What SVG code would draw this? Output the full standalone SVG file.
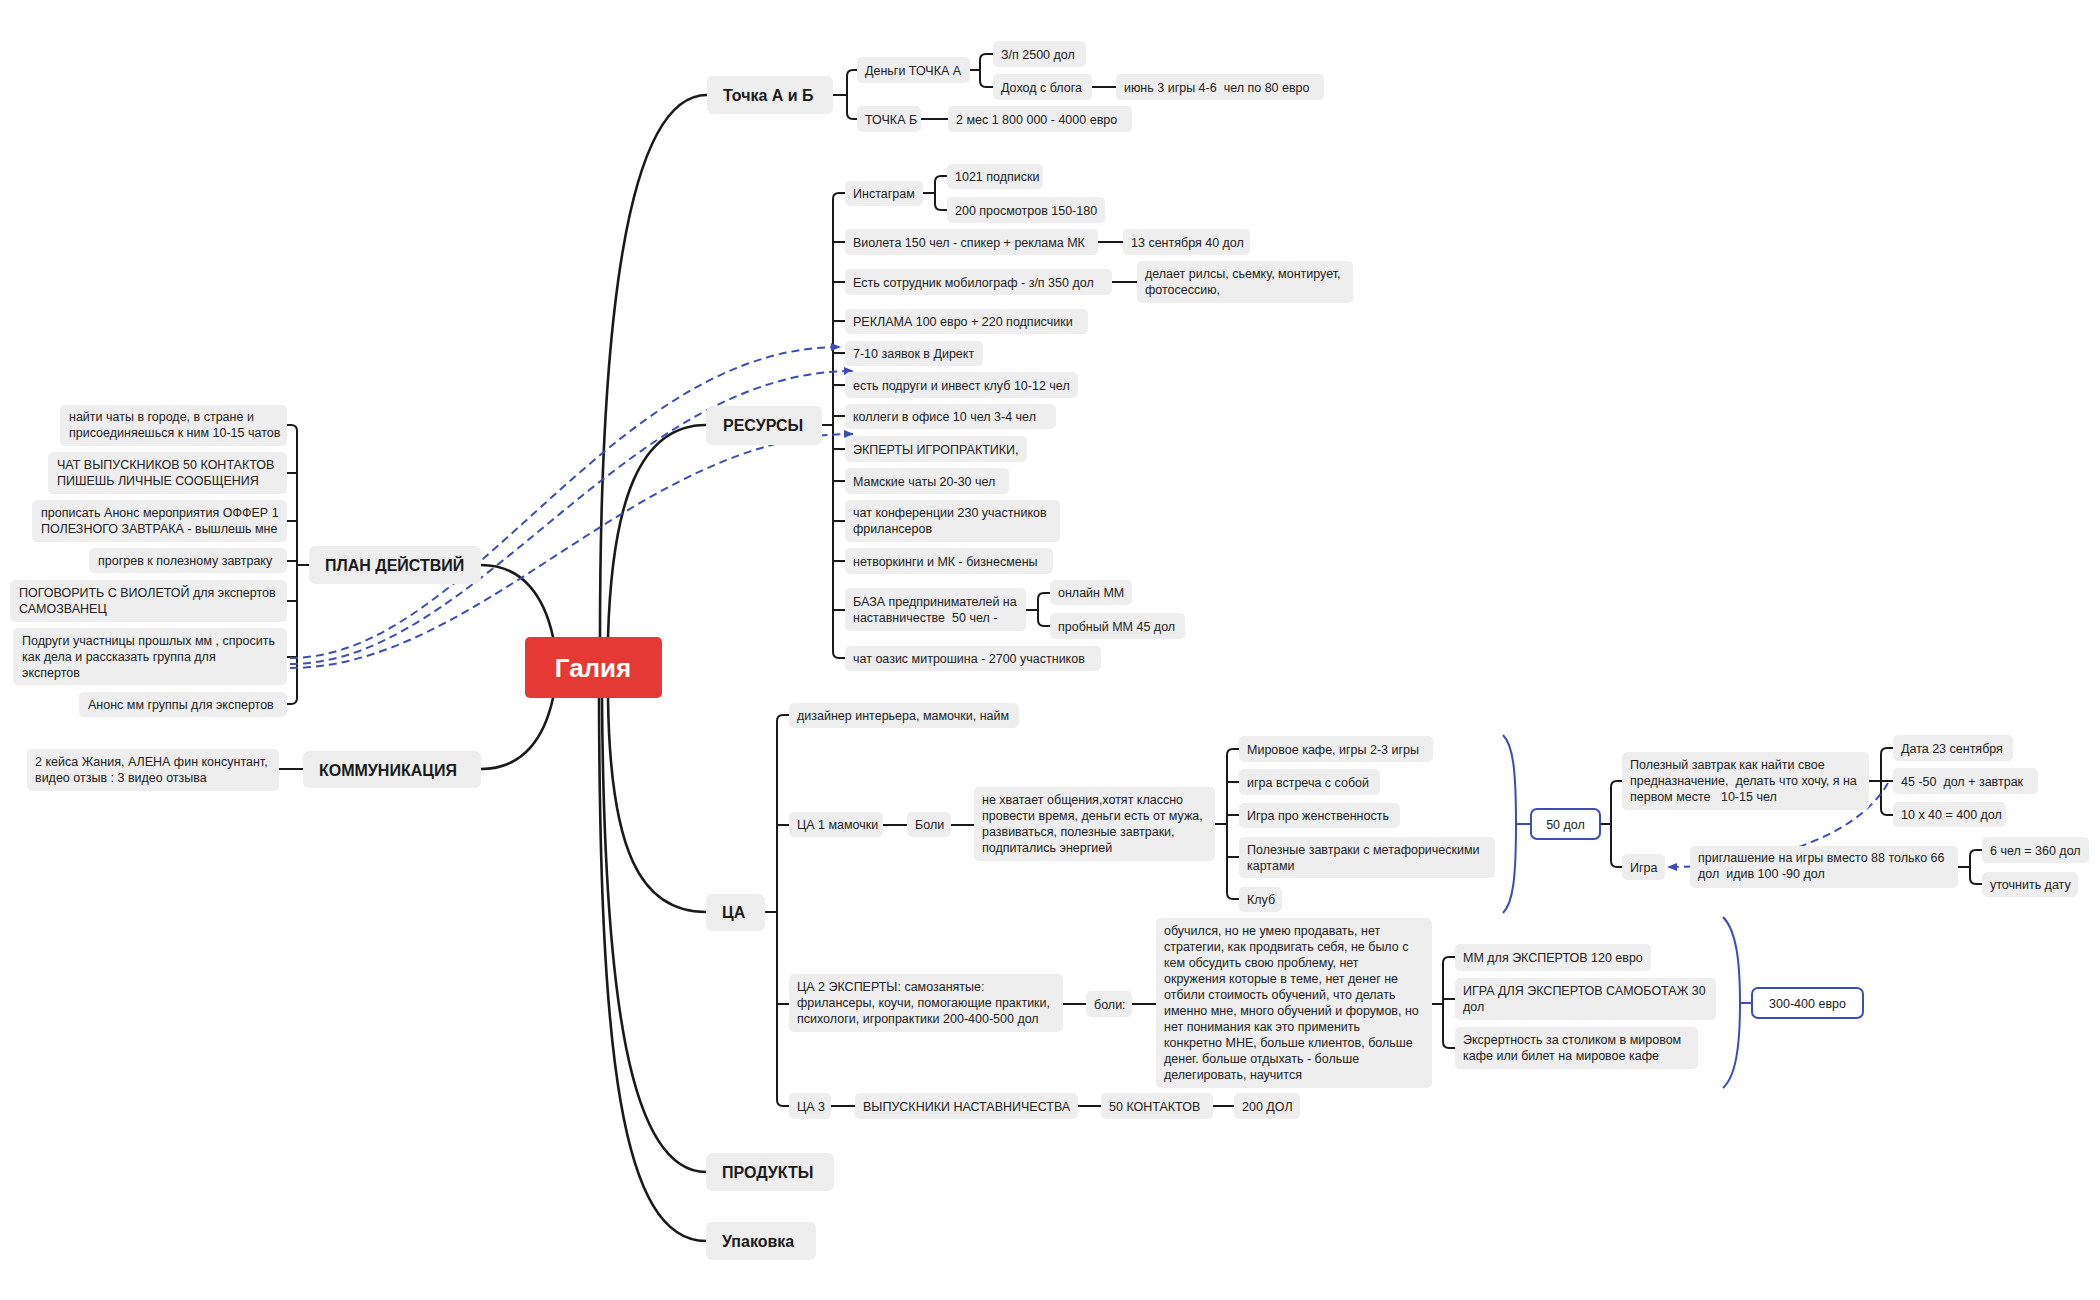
<svg xmlns="http://www.w3.org/2000/svg" width="2100" height="1300" viewBox="0 0 2100 1300">
<defs>
<style>
.n rect{fill:#eeeeee;}
.n text,.t{font-family:"Liberation Sans",Arial,sans-serif;font-size:12.5px;fill:#222;}
.m text{font-family:"Liberation Sans",Arial,sans-serif;font-size:16px;font-weight:bold;fill:#1a1a1a;}
.bx rect{fill:#ffffff;stroke:#3d4db7;stroke-width:2;}
.c path{fill:none;stroke:#1a1a1a;stroke-width:2;stroke-linecap:round;}
.c path.w{stroke-width:2.6;}
.bl path{fill:none;stroke:#3d4db7;stroke-width:2;}
.bl path.d{stroke-dasharray:8 5;}
</style>
<marker id="ah" markerWidth="10" markerHeight="8" refX="9" refY="4" orient="auto" markerUnits="userSpaceOnUse">
<path d="M0,0 L10,4 L0,8 z" fill="#3d4db7"/>
</marker>
</defs>
<rect width="2100" height="1300" fill="#ffffff"/>

<g id="connectors" class="c">
<!-- root to main topics -->
<path class="w" d="M600 637 C600 330 625 95 707 95"/>
<path class="w" d="M608 637 C612 500 640 425 706 425"/>
<path class="w" d="M608 698 C610 850 640 912 706 912"/>
<path class="w" d="M602 698 C604 1000 630 1172 706 1172"/>
<path class="w" d="M599 698 C600 1050 620 1241 706 1241"/>
<path class="w" d="M553 637 C545 600 525 565 481 565"/>
<path class="w" d="M553 698 C545 735 525 769 481 769"/>
<!-- Точка -->
<path d="M833 95 H847"/>
<path d="M857 70 H853 Q847 70 847 76 V113 Q847 119 853 119 H857"/>
<path d="M970 70 H980"/>
<path d="M993 54 H986 Q980 54 980 60 V81 Q980 87 986 87 H993"/>
<path d="M1092 87 H1116"/>
<path d="M921 119 H948"/>
<!-- Ресурсы -->
<path d="M822 425 H833"/>
<path d="M845 193 H839 Q833 193 833 199 V652 Q833 658 839 658 H845"/>
<path d="M833 242 H845 M833 282 H845 M833 321 H845 M833 353 H845 M833 385 H845 M833 416 H845 M833 449 H845 M833 481 H845 M833 521 H845 M833 561 H845 M833 610 H845"/>
<path d="M923 193 H935"/>
<path d="M947 176 H941 Q935 176 935 182 V204 Q935 210 941 210 H947"/>
<path d="M1098 242 H1123"/>
<path d="M1112 282 H1137"/>
<path d="M1026 610 H1038"/>
<path d="M1050 593 H1044 Q1038 593 1038 599 V620 Q1038 626 1044 626 H1050"/>
<!-- План -->
<path d="M309 565 H297"/>
<path d="M287 425 H291 Q297 425 297 431 V698 Q297 704 291 704 H287"/>
<path d="M297 473 H287 M297 521 H287 M297 561 H287 M297 601 H287 M297 657 H287"/>
<!-- Коммуникация -->
<path d="M303 769 H279"/>
<!-- ЦА -->
<path d="M765 912 H777"/>
<path d="M789 715 H783 Q777 715 777 721 V1100 Q777 1106 783 1106 H789"/>
<path d="M777 825 H789 M777 1004 H789"/>
<path d="M883 825 H907 M951 825 H974"/>
<path d="M1215 824 H1227"/>
<path d="M1239 749 H1233 Q1227 749 1227 755 V893 Q1227 899 1233 899 H1239"/>
<path d="M1227 782 H1239 M1227 815 H1239 M1227 857 H1239"/>
<path d="M1600 824 H1611"/>
<path d="M1622 781 H1617 Q1611 781 1611 787 V861 Q1611 867 1617 867 H1622"/>
<path d="M1869 781 H1881"/>
<path d="M1893 748 H1887 Q1881 748 1881 754 V809 Q1881 815 1887 815 H1893"/>
<path d="M1881 781 H1893"/>
<path d="M1958 867 H1970"/>
<path d="M1982 850 H1976 Q1970 850 1970 856 V878 Q1970 884 1976 884 H1982"/>
<path d="M1063 1004 H1086 M1132 1004 H1156"/>
<path d="M1432 1004 H1443"/>
<path d="M1455 957 H1449 Q1443 957 1443 963 V1042 Q1443 1048 1449 1048 H1455"/>
<path d="M1443 999 H1455"/>
<path d="M831 1106 H855 M1078 1106 H1101 M1213 1106 H1234"/>
</g>

<g id="relations" class="bl">
<path d="M1503 735 C1513 745 1516 770 1516 824 C1516 878 1513 903 1503 913"/>
<path d="M1516 824 H1531"/>
<path d="M1723 917 C1736 930 1740 960 1740 1003 C1740 1046 1736 1076 1723 1088"/>
<path d="M1740 1003 H1752"/>
<path class="d" d="M290 658 C470 658 609 347 840 347" marker-end="url(#ah)"/>
<path class="d" d="M290 664 C475 664 625 371 853 371" marker-end="url(#ah)"/>
<path class="d" d="M290 668 C480 668 640 434 853 434" marker-end="url(#ah)"/>
<path class="d" d="M1888 783 C1855 840 1760 867 1668 867" marker-end="url(#ah)"/>
</g>

<g id="root"><rect x="525" y="637" width="137" height="61" rx="5" fill="#e53935"/><text x="593" y="677" text-anchor="middle" font-family="Liberation Sans,Arial,sans-serif" font-size="26" font-weight="bold" fill="#ffffff">Галия</text></g>

<g id="tochka" class="n m"><rect x="707" y="76" width="126" height="38" rx="6"/><text x="723" y="101">Точка А и Б</text></g>
<g id="dengi" class="n"><rect x="857" y="57" width="113" height="26" rx="5"/><text x="865" y="74.5">Деньги ТОЧКА А</text></g>
<g id="tochkab" class="n"><rect x="857" y="106" width="64" height="26" rx="5"/><text x="865" y="123.5">ТОЧКА Б</text></g>
<g id="zp" class="n"><rect x="993" y="41" width="93" height="26" rx="5"/><text x="1001" y="58.5">З/п 2500 дол</text></g>
<g id="dohod" class="n"><rect x="993" y="74" width="99" height="26" rx="5"/><text x="1001" y="91.5">Доход с блога</text></g>
<g id="iyun" class="n"><rect x="1116" y="74" width="208" height="26" rx="5"/><text x="1124" y="91.5" xml:space="preserve">июнь 3 игры 4-6  чел по 80 евро</text></g>
<g id="dvames" class="n"><rect x="948" y="106" width="184" height="26" rx="5"/><text x="956" y="123.5">2 мес 1 800 000 - 4000 евро</text></g>

<g id="resursy" class="n m"><rect x="706" y="406" width="116" height="39" rx="6"/><text x="723" y="431">РЕСУРСЫ</text></g>
<g id="insta" class="n"><rect x="845" y="181" width="78" height="25" rx="5"/><text x="853" y="197.5">Инстаграм</text></g>
<g id="podp" class="n"><rect x="947" y="164" width="96" height="25" rx="5"/><text x="955" y="180.5">1021 подписки</text></g>
<g id="prosm" class="n"><rect x="947" y="197" width="158" height="26" rx="5"/><text x="955" y="214.5">200 просмотров 150-180</text></g>
<g id="violeta" class="n"><rect x="845" y="229" width="253" height="26" rx="5"/><text x="853" y="246.5">Виолета 150 чел - спикер + реклама МК</text></g>
<g id="sent13" class="n"><rect x="1123" y="229" width="127" height="26" rx="5"/><text x="1131" y="246.5">13 сентября 40 дол</text></g>
<g id="sotr" class="n"><rect x="845" y="269" width="267" height="26" rx="5"/><text x="853" y="286.5">Есть сотрудник мобилограф - з/п 350 дол</text></g>
<g id="rils" class="n"><rect x="1137" y="261" width="216" height="42" rx="5"/><text x="1145" y="278.3">делает рилсы, сьемку, монтирует,<tspan x="1145" dy="16">фотосессию,</tspan></text></g>
<g id="reklama" class="n"><rect x="845" y="309" width="243" height="25" rx="5"/><text x="853" y="326">РЕКЛАМА 100 евро + 220 подписчики</text></g>
<g id="zayavki" class="n"><rect x="845" y="341" width="138" height="25" rx="5"/><text x="853" y="358">7-10 заявок в Директ</text></g>
<g id="podrugi" class="n"><rect x="845" y="372" width="233" height="26" rx="5"/><text x="853" y="389.5">есть подруги и инвест клуб 10-12 чел</text></g>
<g id="kollegi" class="n"><rect x="845" y="404" width="211" height="25" rx="5"/><text x="853" y="421">коллеги в офисе 10 чел 3-4 чел</text></g>
<g id="eksperty" class="n"><rect x="845" y="436" width="182" height="26" rx="5"/><text x="853" y="453.5">ЭКПЕРТЫ ИГРОПРАКТИКИ,</text></g>
<g id="mamskie" class="n"><rect x="845" y="468" width="164" height="26" rx="5"/><text x="853" y="485.5">Мамские чаты 20-30 чел</text></g>
<g id="konf" class="n"><rect x="845" y="500" width="215" height="42" rx="5"/><text x="853" y="517.3">чат конференции 230 участников<tspan x="853" dy="16">фрилансеров</tspan></text></g>
<g id="netw" class="n"><rect x="845" y="548" width="208" height="26" rx="5"/><text x="853" y="565.5">нетворкинги и МК - бизнесмены</text></g>
<g id="baza" class="n"><rect x="845" y="588" width="181" height="43" rx="5"/><text x="853" y="605.8" xml:space="preserve">БАЗА предпринимателей на<tspan x="853" dy="16">наставничестве  50 чел -</tspan></text></g>
<g id="onlmm" class="n"><rect x="1050" y="580" width="82" height="25" rx="5"/><text x="1058" y="597">онлайн ММ</text></g>
<g id="probmm" class="n"><rect x="1050" y="613" width="135" height="26" rx="5"/><text x="1058" y="630.5">пробный ММ 45 дол</text></g>
<g id="oazis" class="n"><rect x="845" y="646" width="256" height="25" rx="5"/><text x="853" y="663">чат оазис митрошина - 2700 участников</text></g>

<g id="plan" class="n m"><rect x="309" y="546" width="172" height="38" rx="6"/><text x="325" y="571">ПЛАН ДЕЙСТВИЙ</text></g>
<g id="p1" class="n"><rect x="60" y="405" width="227" height="41" rx="5"/><text x="69" y="421.3">найти чаты в городе, в стране и<tspan x="69" dy="16">присоединяешься к ним 10-15 чатов</tspan></text></g>
<g id="p2" class="n"><rect x="48" y="452" width="239" height="42" rx="5"/><text x="57" y="469.3">ЧАТ ВЫПУСКНИКОВ 50 КОНТАКТОВ<tspan x="57" dy="16">ПИШЕШЬ ЛИЧНЫЕ СООБЩЕНИЯ</tspan></text></g>
<g id="p3" class="n"><rect x="32" y="500" width="255" height="42" rx="5"/><text x="41" y="517.3">прописать Анонс мероприятия ОФФЕР 1<tspan x="41" dy="16">ПОЛЕЗНОГО ЗАВТРАКА - вышлешь мне</tspan></text></g>
<g id="p4" class="n"><rect x="89" y="548" width="198" height="25" rx="5"/><text x="98" y="565">прогрев к полезному завтраку</text></g>
<g id="p5" class="n"><rect x="10" y="580" width="277" height="42" rx="5"/><text x="19" y="597.3">ПОГОВОРИТЬ С ВИОЛЕТОЙ для экспертов<tspan x="19" dy="16">САМОЗВАНЕЦ</tspan></text></g>
<g id="p6" class="n"><rect x="13" y="628" width="274" height="57" rx="5"/><text x="22" y="644.8">Подруги участницы прошлых мм , спросить<tspan x="22" dy="16">как дела и рассказать группа для</tspan><tspan x="22" dy="16">экспертов</tspan></text></g>
<g id="p7" class="n"><rect x="79" y="692" width="208" height="25" rx="5"/><text x="88" y="709">Анонс мм группы для экспертов</text></g>

<g id="komm" class="n m"><rect x="303" y="751" width="178" height="37" rx="6"/><text x="319" y="775.5">КОММУНИКАЦИЯ</text></g>
<g id="keisy" class="n"><rect x="27" y="749" width="252" height="42" rx="5"/><text x="35" y="766.3">2 кейса Жания, АЛЕНА фин консунтант,<tspan x="35" dy="16">видео отзыв : 3 видео отзыва</tspan></text></g>

<g id="ca" class="n m"><rect x="706" y="894" width="59" height="37" rx="6"/><text x="722" y="918">ЦА</text></g>
<g id="dizayner" class="n"><rect x="789" y="703" width="230" height="25" rx="5"/><text x="797" y="719.5">дизайнер интерьера, мамочки, найм</text></g>
<g id="ca1" class="n"><rect x="789" y="812" width="94" height="25" rx="5"/><text x="797" y="829">ЦА 1 мамочки</text></g>
<g id="boli1" class="n"><rect x="907" y="812" width="44" height="25" rx="5"/><text x="915" y="829">Боли</text></g>
<g id="nehvat" class="n"><rect x="974" y="787" width="241" height="74" rx="5"/><text x="982" y="804.3">не хватает общения,хотят классно<tspan x="982" dy="16">провести время, деньги есть от мужа,</tspan><tspan x="982" dy="16">развиваться, полезные завтраки,</tspan><tspan x="982" dy="16">подпитались энергией</tspan></text></g>
<g id="mirkafe" class="n"><rect x="1239" y="736" width="194" height="26" rx="5"/><text x="1247" y="753.5">Мировое кафе, игры 2-3 игры</text></g>
<g id="vstrecha" class="n"><rect x="1239" y="769" width="141" height="26" rx="5"/><text x="1247" y="786.5">игра встреча с собой</text></g>
<g id="zhensk" class="n"><rect x="1239" y="803" width="161" height="25" rx="5"/><text x="1247" y="820">Игра про женственность</text></g>
<g id="zavtraki" class="n"><rect x="1239" y="837" width="256" height="41" rx="5"/><text x="1247" y="853.8">Полезные завтраки с метафорическими<tspan x="1247" dy="16">картами</tspan></text></g>
<g id="klub" class="n"><rect x="1239" y="887" width="43" height="25" rx="5"/><text x="1247" y="904">Клуб</text></g>
<g id="dol50" class="n bx"><rect x="1531" y="809" width="69" height="30" rx="6"/><text x="1565.5" y="828.5" text-anchor="middle">50 дол</text></g>
<g id="polezn" class="n"><rect x="1622" y="752" width="247" height="58" rx="5"/><text x="1630" y="769.3" xml:space="preserve">Полезный завтрак как найти свое<tspan x="1630" dy="16">предназначение,  делать что хочу, я на</tspan><tspan x="1630" dy="16">первом месте   10-15 чел</tspan></text></g>
<g id="igra" class="n"><rect x="1622" y="854" width="43" height="26" rx="5"/><text x="1630" y="871.5">Игра</text></g>
<g id="priglash" class="n"><rect x="1690" y="846" width="268" height="42" rx="5"/><text x="1698" y="862.3" xml:space="preserve">приглашение на игры вместо 88 только 66<tspan x="1698" dy="16">дол  идив 100 -90 дол</tspan></text></g>
<g id="data23" class="n"><rect x="1893" y="735" width="120" height="26" rx="5"/><text x="1901" y="752.5">Дата 23 сентября</text></g>
<g id="d4550" class="n"><rect x="1893" y="768" width="145" height="26" rx="5"/><text x="1901" y="785.5" xml:space="preserve">45 -50  дол + завтрак</text></g>
<g id="d10x40" class="n"><rect x="1893" y="802" width="113" height="25" rx="5"/><text x="1901" y="819">10 х 40 = 400 дол</text></g>
<g id="chel6" class="n"><rect x="1982" y="837" width="107" height="26" rx="5"/><text x="1990" y="854.5">6 чел = 360 дол</text></g>
<g id="utochn" class="n"><rect x="1982" y="872" width="96" height="25" rx="5"/><text x="1990" y="889">уточнить дату</text></g>

<g id="ca2" class="n"><rect x="789" y="974" width="274" height="58" rx="5"/><text x="797" y="991.3">ЦА 2 ЭКСПЕРТЫ: самозанятые:<tspan x="797" dy="16">фрилансеры, коучи, помогающие практики,</tspan><tspan x="797" dy="16">психологи, игропрактики 200-400-500 дол</tspan></text></g>
<g id="boli2" class="n"><rect x="1086" y="991" width="46" height="26" rx="5"/><text x="1094" y="1008.5">боли:</text></g>
<g id="obuchilsya" class="n"><rect x="1156" y="918" width="276" height="170" rx="5"/><text x="1164" y="935.3">обучился, но не умею продавать, нет<tspan x="1164" dy="16">стратегии, как продвигать себя, не было с</tspan><tspan x="1164" dy="16">кем обсудить свою проблему, нет</tspan><tspan x="1164" dy="16">окружения которые в теме, нет денег не</tspan><tspan x="1164" dy="16">отбили стоимость обучений, что делать</tspan><tspan x="1164" dy="16">именно мне, много обучений и форумов, но</tspan><tspan x="1164" dy="16">нет понимания как это применить</tspan><tspan x="1164" dy="16">конкретно МНЕ, больше клиентов, больше</tspan><tspan x="1164" dy="16">денег. больше отдыхать - больше</tspan><tspan x="1164" dy="16">делегировать, научится</tspan></text></g>
<g id="mmeksp" class="n"><rect x="1455" y="944" width="196" height="27" rx="5"/><text x="1463" y="961.5">ММ для ЭКСПЕРТОВ 120 евро</text></g>
<g id="igraeksp" class="n"><rect x="1455" y="978" width="261" height="42" rx="5"/><text x="1463" y="995.3">ИГРА ДЛЯ ЭКСПЕРТОВ САМОБОТАЖ 30<tspan x="1463" dy="16">дол</tspan></text></g>
<g id="ekspert" class="n"><rect x="1455" y="1027" width="243" height="42" rx="5"/><text x="1463" y="1044.3">Эксрертность за столиком в мировом<tspan x="1463" dy="16">кафе или билет на мировое кафе</tspan></text></g>
<g id="evro300" class="n bx"><rect x="1752" y="988" width="111" height="30" rx="6"/><text x="1807.5" y="1007.5" text-anchor="middle">300-400 евро</text></g>
<g id="ca3" class="n"><rect x="789" y="1093" width="42" height="26" rx="5"/><text x="797" y="1110.5">ЦА 3</text></g>
<g id="vypusk" class="n"><rect x="855" y="1093" width="223" height="26" rx="5"/><text x="863" y="1110.5">ВЫПУСКНИКИ НАСТАВНИЧЕСТВА</text></g>
<g id="kont50" class="n"><rect x="1101" y="1093" width="112" height="26" rx="5"/><text x="1109" y="1110.5">50 КОНТАКТОВ</text></g>
<g id="dol200" class="n"><rect x="1234" y="1093" width="66" height="26" rx="5"/><text x="1242" y="1110.5">200 ДОЛ</text></g>

<g id="produkty" class="n m"><rect x="706" y="1153" width="128" height="38" rx="6"/><text x="722" y="1178">ПРОДУКТЫ</text></g>
<g id="upakovka" class="n m"><rect x="706" y="1222" width="110" height="38" rx="6"/><text x="722" y="1247">Упаковка</text></g>
</svg>
